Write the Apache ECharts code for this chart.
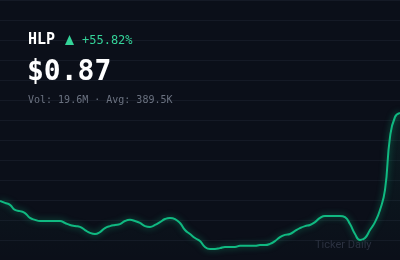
<!DOCTYPE html>
<html><head><meta charset="utf-8">
<script src="https://cdn.jsdelivr.net/npm/echarts@6/dist/echarts.min.js"></script>
<style>html,body{margin:0;padding:0;background:#0b0f19;}#c{width:400px;height:260px;}</style>
</head><body><div id="c"></div>
<script>
const symbol = 'HLP';
const changeText = '+55.82%';
const priceText = '$0.87';
const statsText = 'Vol: 19.6M · Avg: 389.5K';
const watermark = 'Ticker Daily';
const prices = [0.559,0.552,0.545,0.527,0.523,0.516,0.499,0.492,0.488,0.488,0.488,0.488,0.488,0.481,0.474,0.470,0.467,0.456,0.446,0.442,0.449,0.463,0.470,0.474,0.477,0.488,0.492,0.488,0.481,0.470,0.467,0.474,0.484,0.495,0.499,0.495,0.481,0.456,0.442,0.428,0.417,0.396,0.389,0.389,0.392,0.396,0.396,0.396,0.400,0.400,0.400,0.400,0.403,0.403,0.407,0.417,0.431,0.439,0.442,0.453,0.463,0.470,0.474,0.484,0.499,0.506,0.506,0.506,0.506,0.502,0.477,0.442,0.421,0.428,0.456,0.484,0.527,0.598,0.785,0.856,0.870];
const days = prices.map((_, i) => 'D' + (i + 1));

const chart = echarts.init(document.getElementById('c'), null, {renderer: 'canvas'});
const mono = '"DejaVu Sans Mono", monospace';
chart.setOption({
  backgroundColor: '#0b0f19',
  animation: false,
  grid: {left: 0, right: 0, top: 0, bottom: 0},
  xAxis: {type: 'category', data: days, boundaryGap: false, show: false},
  yAxis: [
    {type: 'value', min: 0.35, max: 1.27, show: false},
    {type: 'value', min: 0, max: 13, interval: 1, axisLabel: {show: false}, axisLine: {show: false}, axisTick: {show: false},
     splitLine: {show: true, lineStyle: {color: '#151a26', width: 1}}}
  ],
  series: [{
    type: 'line', data: prices, yAxisIndex: 0, smooth: 0.5, symbol: 'none',
    lineStyle: {color: '#10b981', width: 2, shadowColor: 'rgba(16,185,129,0.6)', shadowBlur: 6},
    areaStyle: {color: new echarts.graphic.LinearGradient(0, 0, 0, 1, [
      {offset: 0, color: 'rgba(16,185,129,0.12)'}, {offset: 1, color: 'rgba(16,185,129,0)'}])}
  }],
  graphic: [
    {type: 'text', z: 100, left: 28, top: 33, style: {text: symbol, font: 'bold 15px ' + mono, fill: '#ffffff'}},
    {type: 'polygon', z: 100, shape: {points: [[69.5, 35], [74, 45], [65, 45]]}, style: {fill: '#34d399'}},
    {type: 'text', z: 100, left: 82, top: 35, style: {text: changeText, font: '12px ' + mono, fill: '#34d399'}},
    {type: 'text', z: 100, left: 27, top: 59, style: {text: priceText, font: 'bold 28px ' + mono, fill: '#ffffff'}},
    {type: 'text', z: 100, left: 28, top: 95, style: {text: statsText, font: '10px ' + mono, fill: '#6b7280'}},
    {type: 'text', z: 100, left: 315, top: 240, style: {text: watermark, font: '11px Roboto, sans-serif', fill: '#2b3140'}}
  ]
});
</script></body></html>
